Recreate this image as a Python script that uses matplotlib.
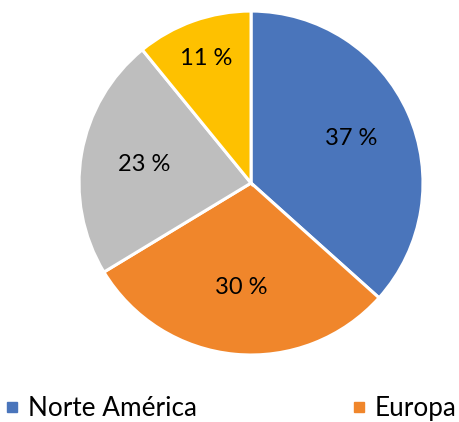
import numpy as np
import matplotlib
matplotlib.use("Agg")
from matplotlib import pyplot as plt
from matplotlib.lines import Line2D

# data
regions = ['Norte América', 'Europa', 'Resto', 'Otros']
shares = [37, 30, 23, 11]
share_labels = ['37 %', '30 %', '23 %', '11 %']
colors = ['#4a75bb', '#f0862b', '#bebebe', '#fec100']

plt.rcParams['font.family'] = ['Lato', 'DejaVu Sans']

fig = plt.figure(figsize=(4.6, 4.22), dpi=100)
ax = fig.add_axes([0.1717, 0.1588, 0.748, 0.815])

wedges, _ = ax.pie(shares, colors=colors, startangle=90, counterclock=False,
                   radius=1.0, wedgeprops=dict(edgecolor='white', linewidth=2.2))
ax.set_xlim(-1, 1)
ax.set_ylim(-1, 1)
ax.set_aspect('equal')

# label distances from centre
dist = [0.64, 0.61, 0.63, 0.77]
for w, lab, d in zip(wedges, share_labels, dist):
    mid = np.deg2rad((w.theta1 + w.theta2) / 2)
    ax.text(d * np.cos(mid), d * np.sin(mid), lab, ha='center', va='center',
            fontsize=17, color='black')

# legend (only first row visible)
handles = [Line2D([], [], marker='s', linestyle='', markersize=7, color=c)
           for c in colors[:2]]
fig.legend(handles, regions[:2], loc='lower left', bbox_to_anchor=(-0.025, -0.035),
           ncol=2, frameon=False, fontsize=18.8, handlelength=0.6,
           handletextpad=0.3, columnspacing=5.9, borderaxespad=0.2)

fig.savefig('out.png', dpi=100)
